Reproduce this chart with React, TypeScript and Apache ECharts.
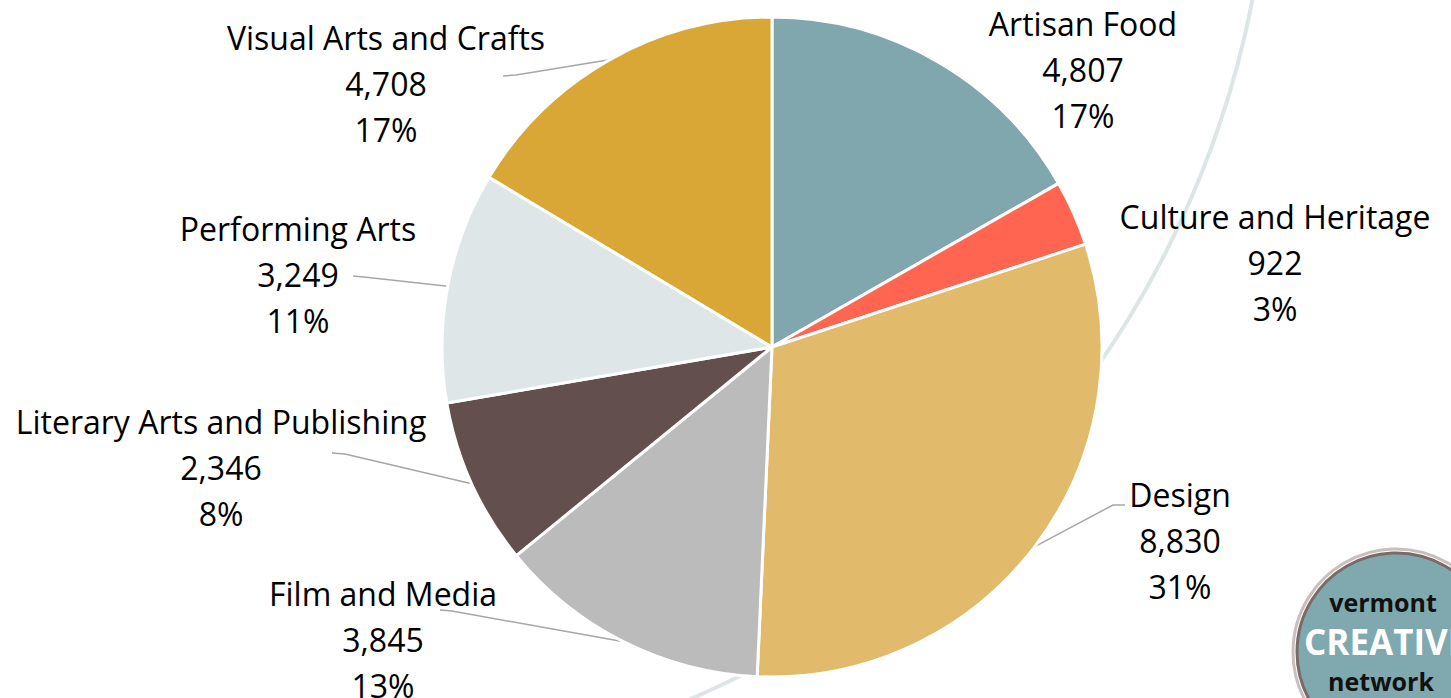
import React, { useEffect, useRef } from "react";
import * as echarts from "echarts";

const categories = [
  "Artisan Food",
  "Culture and Heritage",
  "Design",
  "Film and Media",
  "Literary Arts and Publishing",
  "Performing Arts",
  "Visual Arts and Crafts",
];
const values = [4807, 922, 8830, 3845, 2346, 3249, 4708];
const colors = ["#7FA7AD", "#FF6550", "#E1BB6B", "#BBBBBB", "#63504E", "#DEE6E7", "#D9A735"];
const showLine = [false, false, true, true, true, true, true];

// label anchor positions (layout only)
const labelPos: [number, number][] = [
  [1083, 69],
  [1275, 262],
  [1180, 540],
  [383, 639],
  [221, 467],
  [298, 274],
  [386, 83],
];
// label-side ends of leader lines (layout only): [end, elbow]
const lineEnds: ([number, number][] | null)[] = [
  null,
  null,
  [[1125, 505], [1113, 505]],
  [[440, 610], [452, 611]],
  [[332, 453], [345, 454]],
  [[353, 276], [364, 277]],
  [[503, 76], [516, 75]],
];

export default function App() {
  const ref = useRef<HTMLDivElement>(null);
  useEffect(() => {
    document.body.style.margin = "0";
    const chart = echarts.init(ref.current!, null, { renderer: "svg" });
    const font = "'Open Sans', sans-serif";
    chart.setOption({
      animation: false,
      backgroundColor: "#ffffff",
      graphic: [
        {
          type: "circle",
          z: -10,
          silent: true,
          shape: { cx: 309, cy: -183, r: 961 },
          style: { fill: "none", stroke: "#DDE5E7", lineWidth: 4 },
        },
        {
          type: "group",
          z: 100,
          children: [
            {
              type: "circle",
              shape: { cx: 1396, cy: 652, r: 103 },
              style: { fill: "none", stroke: "#C9BFBD", lineWidth: 3 },
            },
            {
              type: "circle",
              shape: { cx: 1396, cy: 652, r: 99 },
              style: { fill: "#7FA8AF", stroke: "#7B6A67", lineWidth: 3 },
            },
            {
              type: "text",
              x: 1383,
              y: 602,
              style: {
                text: "vermont",
                fill: "#111",
                font: "bold 25px 'Open Sans', sans-serif",
                align: "center",
                verticalAlign: "middle",
              },
            },
            {
              type: "text",
              x: 1304,
              y: 641,
              style: {
                text: "CREATIVE",
                fill: "#ffffff",
                font: "bold 35px 'Open Sans', sans-serif",
                align: "left",
                verticalAlign: "middle",
              },
            },
            {
              type: "text",
              x: 1381,
              y: 681,
              style: {
                text: "network",
                fill: "#111",
                font: "bold 25px 'Open Sans', sans-serif",
                align: "center",
                verticalAlign: "middle",
              },
            },
          ],
        },
      ],
      series: [
        {
          type: "pie",
          center: [772, 347],
          radius: 330,
          startAngle: 90,
          clockwise: true,
          percentPrecision: 0,
          avoidLabelOverlap: false,
          itemStyle: { borderColor: "#ffffff", borderWidth: 3 },
          label: {
            show: true,
            position: "outside",
            fontFamily: font,
            fontSize: 32,
            lineHeight: 46,
            color: "#000000",
            align: "center",
            formatter: (p: any) =>
              `${p.name}\n${Number(p.value).toLocaleString("en-US")}\n${p.percent}%`,
          },
          labelLine: {
            show: true,
            lineStyle: { color: "#A6A6A6", width: 1.5 },
          },
          labelLayout: (params: any) => {
            const i = params.dataIndex;
            const pos = labelPos[i];
            const res: any = {
              x: pos[0],
              y: pos[1],
              align: "center",
              verticalAlign: "middle",
              hideOverlap: false,
            };
            const le = lineEnds[i];
            if (le && params.labelLinePoints && params.labelLinePoints[0]) {
              const start = params.labelLinePoints[0];
              res.labelLinePoints = [[start[0], start[1]], le[1], le[0]];
            }
            return res;
          },
          data: categories.map((name, i) => ({
            name,
            value: values[i],
            itemStyle: { color: colors[i] },
            labelLine: { show: showLine[i] },
          })),
        },
      ],
    });
    return () => chart.dispose();
  }, []);
  return <div ref={ref} style={{ position: "fixed", left: 0, top: 0, width: 1451, height: 698 }} />;
}
